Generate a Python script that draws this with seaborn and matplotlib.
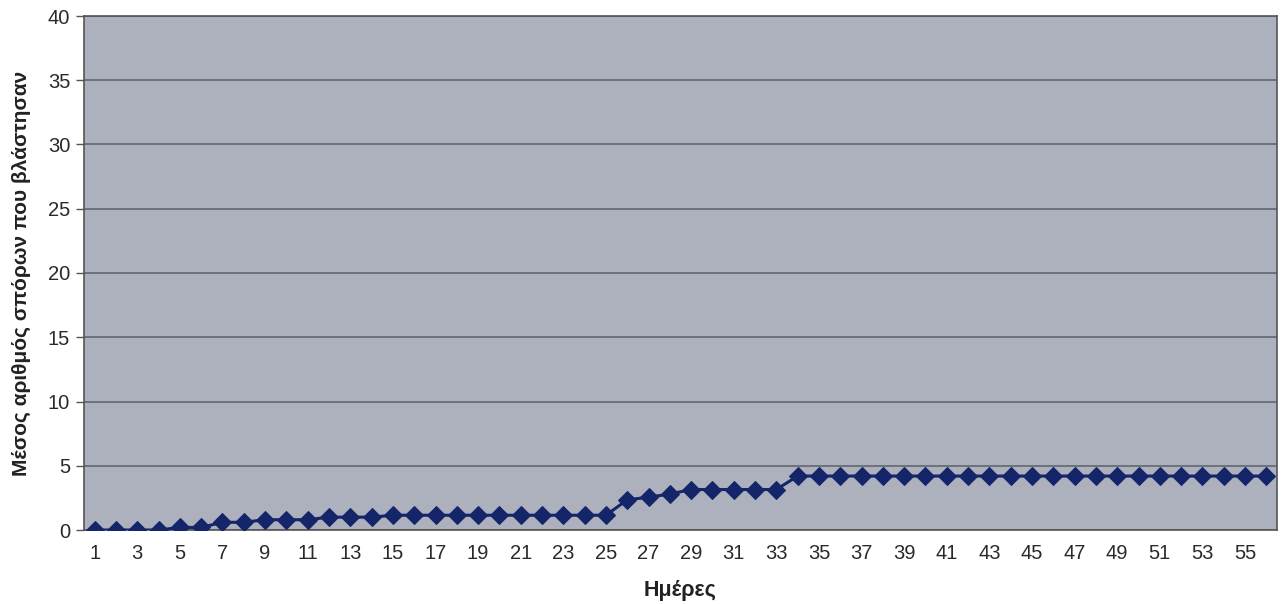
import numpy as np
import pandas as pd
import matplotlib
matplotlib.use("Agg")
import matplotlib.pyplot as plt
import seaborn as sns

# Days of observation and mean number of germinated seeds per day
days = list(range(1, 57))
mean_germinated = (
    [0.0, 0.0, 0.0, 0.0, 0.2, 0.2, 0.6, 0.6, 0.8, 0.8,
     0.8, 1.0, 1.0, 1.0, 1.15, 1.15, 1.15, 1.15, 1.15, 1.15,
     1.15, 1.15, 1.15, 1.15, 1.15, 2.35, 2.55, 2.8, 3.15, 3.15,
     3.15, 3.15, 3.15]
    + [4.2] * 23
)
x_labels = [str(d) if d % 2 == 1 else "" for d in days]

df = pd.DataFrame({"Ημέρες": days, "value": mean_germinated})

sns.set_theme(style="white")
plt.rcParams["font.family"] = ["Liberation Sans", "DejaVu Sans"]

fig = plt.figure(figsize=(12.82, 6.04), dpi=100)
ax = fig.add_axes([84 / 1282, 1 - 530 / 604, (1277 - 84) / 1282, (530 - 16) / 604])
ax.set_facecolor("#acb1bd")

sns.lineplot(data=df, x="Ημέρες", y="value", ax=ax, color="#14256a",
             linewidth=2.2, marker="D", markersize=9.5,
             markeredgecolor="#14256a", zorder=3)

ax.set_xlim(0.5, 56.5)
ax.set_ylim(0, 40)
ax.set_yticks(np.arange(0, 41, 5))
ax.set_yticklabels([str(v) for v in range(0, 41, 5)], fontsize=14.5, color="#2a2a2a")

# labels under every category, tick marks between categories
ax.set_xticks(days)
ax.set_xticklabels(x_labels, fontsize=14.5, color="#2a2a2a")
ax.set_xticks(np.arange(0.5, 57, 1), minor=True)
ax.tick_params(axis="x", which="major", length=0, pad=10)
ax.tick_params(axis="x", which="minor", length=6, width=1, color="#555555", direction="out")
ax.tick_params(axis="y", length=6, width=1, color="#555555", direction="out", left=True, pad=4)

ax.grid(axis="y", color="#5c6068", linewidth=1.1, zorder=1)
ax.set_axisbelow(True)
for side in ["left", "bottom", "right", "top"]:
    ax.spines[side].set_visible(True)
    ax.spines[side].set_color("#555555")
    ax.spines[side].set_linewidth(1.2)

ax.set_xlabel("Ημέρες", fontsize=15.5, fontweight="bold", color="#222222", labelpad=12)
ax.set_ylabel("Μέσος αριθμός σπόρων που βλάστησαν", fontsize=15, fontweight="bold",
              color="#222222", labelpad=12)

fig.savefig("out.png", dpi=100, facecolor="white")
